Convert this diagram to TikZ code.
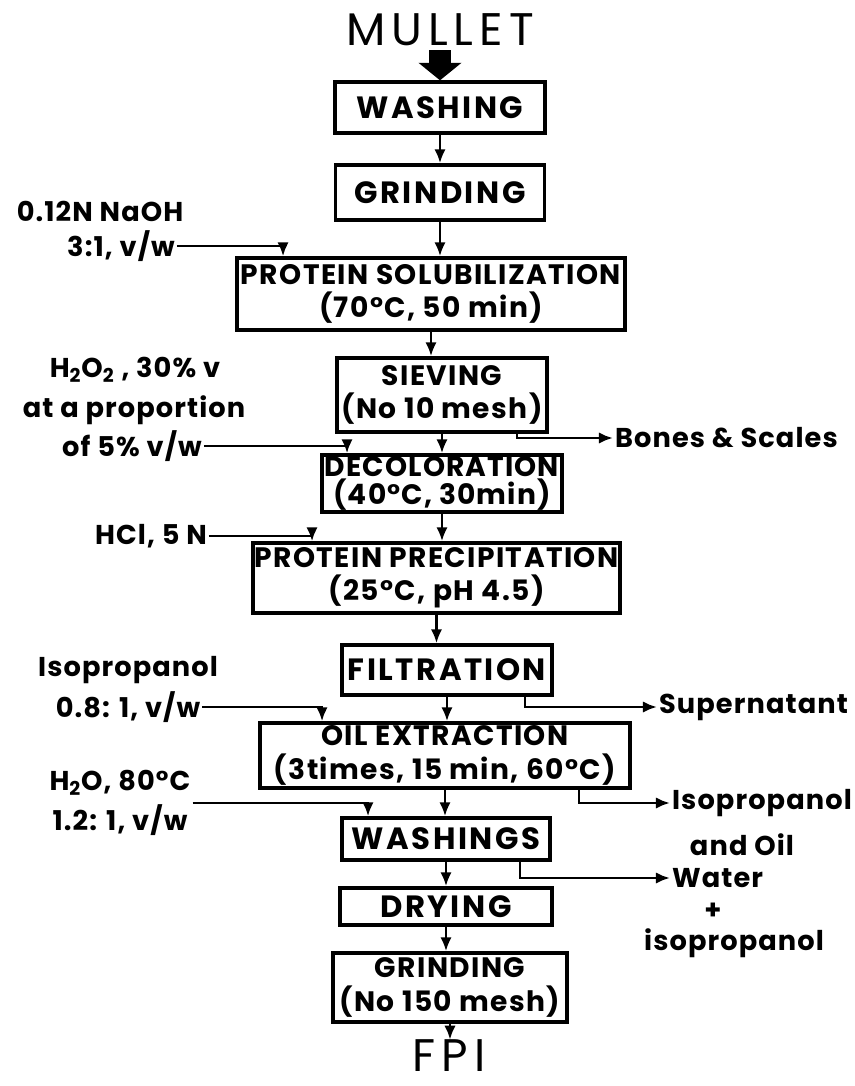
\documentclass[tikz,border=0pt]{standalone}
\usepackage{fontspec}
\setmainfont{Poppins}
\usetikzlibrary{arrows.meta}

\begin{document}
\begin{tikzpicture}[
    x=0.02cm, y=-0.02cm,
    stage/.style={draw, line width=1.9pt, inner sep=0pt, align=center, font=\fontsize{17.5}{20}\selectfont\bfseries\addfontfeatures{LetterSpace=8}},
    stagetwo/.style={stage, font=\fontsize{16}{19}\selectfont\bfseries\addfontfeatures{LetterSpace=5}},
    reagent/.style={inner sep=1pt, align=center, font=\fontsize{15.5}{23}\selectfont\bfseries\addfontfeatures{LetterSpace=4}},
    flow/.style={line width=1.6pt, -{Latex[length=8pt,width=6.5pt]}},
    feed/.style={flow},
    endname/.style={inner sep=0pt, font=\fontsize{26}{30}\selectfont\addfontfeatures{LetterSpace=13}},
]
\useasboundingbox (0,0) rectangle (855,1086);

% --- Main process line ---
\node[endname] (mullet) at (440,30) {MULLET};
\node[stage, minimum width=4.2cm, minimum height=1.02cm] (wash) at (440,107.5) {WASHING};
\node[stage, minimum width=4.18cm, minimum height=1.1cm] (grind) at (440,192.5) {GRINDING};
\node[stagetwo, minimum width=7.76cm, minimum height=1.44cm] (sol) at (431,294) {PROTEIN SOLUBILIZATION\\(70°C, 50 min)};
\node[stagetwo, minimum width=4.2cm, minimum height=1.48cm] (sieve) at (442,395) {SIEVING\\(No 10 mesh)};
\node[stagetwo, minimum width=4.8cm, minimum height=1.14cm,
      font=\fontsize{16}{15.5}\selectfont\bfseries\addfontfeatures{LetterSpace=4}] (decol) at (442,483.5) {DECOLORATION\\(40°C, 30min)};
\node[stagetwo, minimum width=7.34cm, minimum height=1.4cm] (prec) at (436.5,578) {PROTEIN PRECIPITATION\\(25°C, pH 4.5)};
\node[stage, minimum width=4.2cm, minimum height=1.0cm] (filt) at (447,670) {FILTRATION};
\node[stagetwo, minimum width=7.4cm, minimum height=1.3cm] (oil) at (445,755.5) {OIL EXTRACTION\\(3times, 15 min, 60°C)};
\node[stage, minimum width=4.16cm, minimum height=0.84cm] (washs) at (446,839) {WASHINGS};
\node[stage, minimum width=4.24cm, minimum height=0.74cm] (dry) at (446,906.5) {DRYING};
\node[stagetwo, minimum width=4.68cm, minimum height=1.38cm] (regrind) at (450,987.5) {GRINDING\\(No 150 mesh)};
\node[endname] (fpi) at (449,1056) {FPI};

% Raw material in
\draw[line width=12.5pt, -{Triangle[width=24pt,length=10pt]}] ([yshift=-0.08cm]mullet.south) -- (wash.north);

% Arrows down the line
\draw[flow] (wash.south) -- (wash.south |- grind.north);
\draw[flow] (grind.south) -- (grind.south |- sol.north);
\draw[flow] (sol.south) -- (sol.south |- sieve.north);
\draw[flow] (sieve.south) -- (sieve.south |- decol.north);
\draw[flow] (decol.south) -- (decol.south |- prec.north);
\draw[flow] (prec.south) -- (prec.south |- filt.north);
\draw[flow] (filt.south) -- (filt.south |- oil.north);
\draw[flow] (oil.south) -- (oil.south |- washs.north);
\draw[flow] (washs.south) -- (washs.south |- dry.north);
\draw[flow] (dry.south) -- (dry.south |- regrind.north);
\draw[flow] (regrind.south) -- (regrind.south |- fpi.north);

% --- Reagents added (left) ---
\node[reagent] (naoha) at (100,211) {0.12N NaOH};
\node[reagent] (naohb) at (121,246) {3:1, v/w};
\node[reagent] (perxa) at (135,370) {H\textsubscript{2}O\textsubscript{2} , 30\% v};
\node[reagent] (perxb) at (134,410) {at a proportion};
\node[reagent] (perxc) at (132,446) {of 5\% v/w};
\node[reagent] (hcl) at (151,536) {HCl, 5 N};
\node[reagent] (isoa) at (128,670) {Isopropanol};
\node[reagent] (isob) at (128,707) {0.8: 1, v/w};
\node[reagent] (hwater) at (120,803) {H\textsubscript{2}O, 80°C\\1.2: 1, v/w};

\draw[feed] (naohb.east) -| ([xshift=-2.96cm]sol.north);
\draw[feed] (perxc.east) -| ([xshift=-1.9cm]decol.north);
\draw[feed] (hcl.east) -| ([xshift=-2.49cm]prec.north);
\draw[feed] (isob.east) -| ([xshift=-2.46cm]oil.north);
\draw[feed] (hwater.east) -| ([xshift=-1.56cm]washs.north);

% --- By-products removed (right) ---
\node[reagent, anchor=west] (bones) at (613,438) {Bones \& Scales};
\node[reagent, anchor=west] (super) at (657,707) {Supernatant};
\node[reagent, anchor=west] (isooila) at (670,803) {Isopropanol};
\node[reagent] (isooilb) at (742,845) {and Oil};
\node[reagent, anchor=west] (watera) at (670,878) {Water};
\node[reagent] (waterb) at (713,911) {+};
\node[reagent] (waterc) at (734,943) {isopropanol};

\draw[feed] ([xshift=1.5cm]sieve.south) |- (bones.west);
\draw[feed] ([xshift=1.56cm]filt.south) |- (super.west);
\draw[feed] ([xshift=2.68cm]oil.south) |- (isooila.west);
\draw[feed] ([xshift=1.48cm]washs.south) |- (watera.west);

\end{tikzpicture}
\end{document}
